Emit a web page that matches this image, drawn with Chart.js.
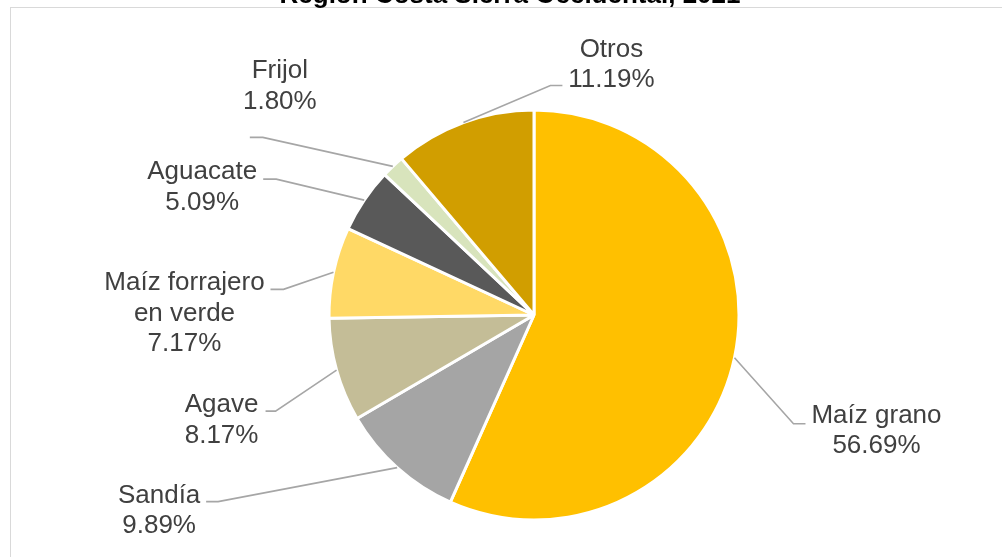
<!DOCTYPE html>
<html>
<head>
<meta charset="utf-8">
<script src="https://cdn.jsdelivr.net/npm/chart.js@4.4.1/dist/chart.umd.min.js"></script>
<style>
html, body { margin: 0; padding: 0; background: #fff; overflow: hidden; }
#wrap { position: relative; width: 1002px; height: 557px; overflow: hidden; }
#frame { position: absolute; left: 10px; top: 7px; width: 1100px; height: 700px; border: 1px solid #d9d9d9; box-sizing: border-box; }
canvas { position: absolute; left: 0; top: 0; }
</style>
</head>
<body>
<div id="wrap">
  <div id="frame"></div>
  <canvas id="pie" width="1002" height="557"></canvas>
</div>
<script>
const chartTitle = 'Región Costa Sierra Occidental, 2021';
const cultivos = ['Maíz grano', 'Sandía', 'Agave', 'Maíz forrajero en verde', 'Aguacate', 'Frijol', 'Otros'];
const etiquetas = [['Maíz grano'], ['Sandía'], ['Agave'], ['Maíz forrajero', 'en verde'], ['Aguacate'], ['Frijol'], ['Otros']];
const porcentajes = [56.69, 9.89, 8.17, 7.17, 5.09, 1.80, 11.19];
const colores = ['#FFC000', '#A5A5A5', '#C4BD97', '#FFD966', '#595959', '#D8E4BC', '#D19E00'];

// where each label sits, measured from the point where its leader leaves the slice
// ex,ey = elbow of the leader, hx = short horizontal tail, tx,ty = text centre / first baseline
const labelPos = [
  { ex: 59, ey: 66, hx: 12, tx: 142, ty: 65 },
  { ex: -179, ey: 34, hx: -12, tx: -238, ty: 35 },
  { ex: -61, ey: 41, hx: -10, tx: -115, ty: 42 },
  { ex: -50, ey: 17, hx: -13, tx: -149, ty: 18 },
  { ex: -88, ey: -21, hx: -13, tx: -162, ty: -21 },
  { ex: -130, ey: -29, hx: -13, tx: -113, ty: -88 },
  { ex: 87, ey: -37, hx: 12, tx: 148, ty: -66 }
];

const labelsPlugin = {
  id: 'pieLabels',
  afterDraw(chart) {
    const ctx = chart.ctx;
    const meta = chart.getDatasetMeta(0);
    ctx.save();
    // title, only its lower edge shows above the frame
    ctx.fillStyle = '#000';
    ctx.font = 'bold 26px "Liberation Sans", Arial, sans-serif';
    ctx.textAlign = 'center';
    ctx.textBaseline = 'alphabetic';
    ctx.fillText(chartTitle, 510, 3);

    ctx.font = '25px "Liberation Sans", Arial, sans-serif';
    meta.data.forEach(function(arc, i) {
      const p = arc.getProps(['x', 'y', 'startAngle', 'endAngle', 'outerRadius'], true);
      const mid = (p.startAngle + p.endAngle) / 2;
      const px = p.x + Math.cos(mid) * p.outerRadius;
      const py = p.y + Math.sin(mid) * p.outerRadius;
      const L = labelPos[i];
      ctx.strokeStyle = '#A6A6A6';
      ctx.lineWidth = 1.6;
      ctx.beginPath();
      ctx.moveTo(px, py);
      ctx.lineTo(px + L.ex, py + L.ey);
      ctx.lineTo(px + L.ex + L.hx, py + L.ey);
      ctx.stroke();
      const lines = etiquetas[i].concat([porcentajes[i].toFixed(2) + '%']);
      ctx.fillStyle = '#404040';
      lines.forEach(function(t, k) {
        // the original text is a touch wider than Liberation Sans
        ctx.save();
        ctx.translate(px + L.tx, py + L.ty + k * 30.5);
        ctx.scale(1.04, 1);
        ctx.fillText(t, 0, 0);
        ctx.restore();
      });
    });
    ctx.restore();
  }
};

new Chart(document.getElementById('pie'), {
  type: 'pie',
  data: {
    labels: cultivos,
    datasets: [{
      data: porcentajes,
      backgroundColor: colores,
      borderColor: '#ffffff',
      borderWidth: 3
    }]
  },
  options: {
    responsive: false,
    animation: false,
    radius: 205,
    layout: { padding: { top: 110, bottom: 37, left: 329, right: 263 } },
    plugins: { legend: { display: false }, tooltip: { enabled: false }, title: { display: false } }
  },
  plugins: [labelsPlugin]
});
</script>
</body>
</html>
